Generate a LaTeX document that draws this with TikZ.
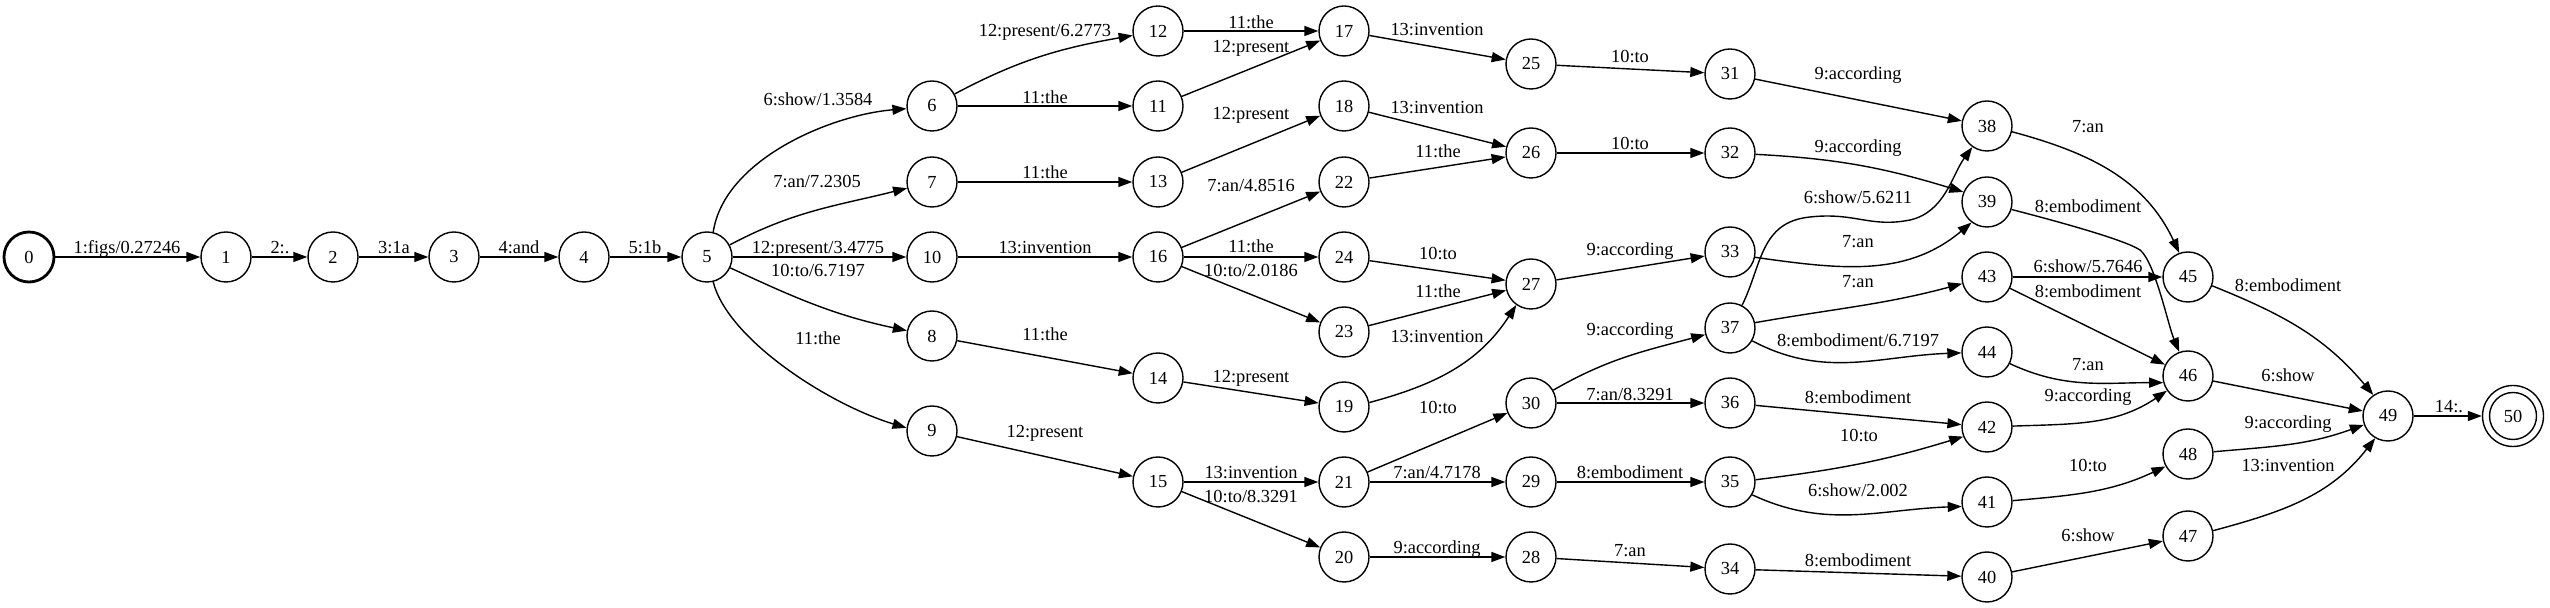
\documentclass[tikz,border=0pt]{standalone}
\usepackage{fontspec}
\setmainfont{Liberation Serif}
\usetikzlibrary{arrows.meta}
\begin{document}
\begin{tikzpicture}[x=0.5pt,y=0.5pt,
  st/.style={circle,draw,line width=0.7pt,minimum size=25pt,inner sep=0pt,font=\fontsize{9.2}{11}\selectfont},
  ed/.style={line width=0.7pt,-{Triangle[length=7pt,width=5pt]}},
  lb/.style={anchor=base,yshift=-3pt,inner sep=0pt,font=\fontsize{9.2}{11}\selectfont}]
\useasboundingbox (0,0) rectangle (2550,-608);
% nodes
\node[st,line width=1.4pt] (n0) at (29,-257) {0};
\node[st] (n1) at (226,-257) {1};
\node[st] (n2) at (333,-257) {2};
\node[st] (n3) at (454,-257) {3};
\node[st] (n4) at (584,-257) {4};
\node[st] (n5) at (707,-257) {5};
\node[st] (n6) at (932,-106) {6};
\node[st] (n7) at (932,-182) {7};
\node[st] (n10) at (932,-257) {10};
\node[st] (n8) at (932,-336) {8};
\node[st] (n9) at (932,-431) {9};
\node[st] (n12) at (1158,-31) {12};
\node[st] (n11) at (1158,-106) {11};
\node[st] (n13) at (1158,-182) {13};
\node[st] (n16) at (1158,-257) {16};
\node[st] (n14) at (1158,-378) {14};
\node[st] (n15) at (1158,-482) {15};
\node[st] (n17) at (1344,-31) {17};
\node[st] (n18) at (1344,-106) {18};
\node[st] (n22) at (1344,-182) {22};
\node[st] (n24) at (1344,-257) {24};
\node[st] (n23) at (1344,-332) {23};
\node[st] (n19) at (1344,-407) {19};
\node[st] (n21) at (1344,-482) {21};
\node[st] (n20) at (1344,-557) {20};
\node[st] (n25) at (1531,-64) {25};
\node[st] (n26) at (1531,-153) {26};
\node[st] (n27) at (1531,-284) {27};
\node[st] (n30) at (1531,-403) {30};
\node[st] (n29) at (1531,-482) {29};
\node[st] (n28) at (1531,-557) {28};
\node[st] (n31) at (1730,-74) {31};
\node[st] (n32) at (1730,-153) {32};
\node[st] (n33) at (1730,-252) {33};
\node[st] (n37) at (1730,-328) {37};
\node[st] (n36) at (1730,-403) {36};
\node[st] (n35) at (1730,-482) {35};
\node[st] (n34) at (1730,-569) {34};
\node[st] (n38) at (1987,-126) {38};
\node[st] (n39) at (1987,-202) {39};
\node[st] (n43) at (1987,-277) {43};
\node[st] (n44) at (1987,-352) {44};
\node[st] (n42) at (1987,-427) {42};
\node[st] (n41) at (1987,-502) {41};
\node[st] (n40) at (1987,-577) {40};
\node[st] (n45) at (2188,-277) {45};
\node[st] (n46) at (2188,-376) {46};
\node[st] (n48) at (2188,-454) {48};
\node[st] (n47) at (2188,-536) {47};
\node[st] (n49) at (2388,-416) {49};
\node[st,minimum size=30.5pt] (n50) at (2513,-416) {};
\node[st,minimum size=23.5pt] (n50i) at (2513,-416) {50};
% edges
\draw[ed] (n0) -- (n1);
\draw[ed] (n1) -- (n2);
\draw[ed] (n2) -- (n3);
\draw[ed] (n3) -- (n4);
\draw[ed] (n4) -- (n5);
\draw[ed] (n5.76) .. controls (724,-160) and (830,-115) .. (n6.186);
\draw[ed] (n5) to[out=28,in=194] (n7);
\draw[ed] (n5) -- (n10);
\draw[ed] (n5) to[out=-25,in=168] (n8);
\draw[ed] (n5.-76) .. controls (728,-340) and (830,-405) .. (n9.173);
\draw[ed] (n6) to[out=28,in=190] (n12);
\draw[ed] (n6) -- (n11);
\draw[ed] (n7) -- (n13);
\draw[ed] (n10) -- (n16);
\draw[ed] (n8) -- (n14);
\draw[ed] (n9) -- (n15);
\draw[ed] (n12) -- (n17);
\draw[ed] (n11) -- (n17);
\draw[ed] (n13) -- (n18);
\draw[ed] (n16) -- (n22);
\draw[ed] (n16) -- (n24);
\draw[ed] (n16) -- (n23);
\draw[ed] (n14) -- (n19);
\draw[ed] (n15) -- (n21);
\draw[ed] (n15) -- (n20);
\draw[ed] (n17) -- (n25);
\draw[ed] (n18) -- (n26);
\draw[ed] (n22) -- (n26);
\draw[ed] (n24) -- (n27);
\draw[ed] (n23) -- (n27);
\draw[ed] (n19.10) to[out=15,in=237] (n27.235);
\draw[ed] (n21) -- (n30);
\draw[ed] (n21) -- (n29);
\draw[ed] (n20) -- (n28);
\draw[ed] (n25) -- (n31);
\draw[ed] (n26) -- (n32);
\draw[ed] (n27) -- (n33);
\draw[ed] (n30.30) to[out=30,in=195] (n37.195);
\draw[ed] (n30) -- (n36);
\draw[ed] (n29) -- (n35);
\draw[ed] (n28) -- (n34);
\draw[ed] (n31) -- (n38);
\draw[ed] (n32.-3) to[out=-3,in=163] (n39.157);
\draw[ed] (n37.62) .. controls (1762,-265) and (1760,-222) .. (1810,-217) .. controls (1855,-212) and (1870,-228) .. (1910,-220) .. controls (1945,-212) and (1952,-175) .. (n38.235);
\draw[ed] (n33.-12) to[out=-8,in=220] (n39.233);
\draw[ed] (n37.12) to[out=10,in=195] (n43.195);
\draw[ed] (n37.-30) to[out=-28,in=182] (n44.182);
\draw[ed] (n36) -- (n42);
\draw[ed] (n35.5) to[out=7,in=197] (n42.202);
\draw[ed] (n35.-30) to[out=-25,in=182] (n41.190);
\draw[ed] (n34) -- (n40);
\draw[ed] (n38.-13) to[out=-15,in=115] (n45.110);
\draw[ed] (n39.-17) .. controls (2060,-222) and (2125,-240) .. (2140,-250) .. controls (2155,-262) and (2168,-325) .. (n46.110);
\draw[ed] (n43) -- (n45);
\draw[ed] (n43) -- (n46);
\draw[ed] (n44.-27) to[out=-25,in=180] (n46.195);
\draw[ed] (n42.2) to[out=2,in=214] (n46.215);
\draw[ed] (n41.3) to[out=5,in=205] (n48.209);
\draw[ed] (n40) -- (n47);
\draw[ed] (n45.-20) to[out=-22,in=130] (n49.125);
\draw[ed] (n46) -- (n49);
\draw[ed] (n48.5) to[out=5,in=200] (n49.200);
\draw[ed] (n47.12) to[out=15,in=232] (n49.240);
\draw[ed] (n49) -- (n50);
% labels
\node[lb] (l0) at (127,-248) {1:figs/0.27246};
\node[lb] (l1) at (280,-248) {2:.};
\node[lb] (l2) at (394,-248) {3:1a};
\node[lb] (l3) at (519,-248) {4:and};
\node[lb] (l4) at (645,-248) {5:1b};
\node[lb] (l5a) at (818,-100) {6:show/1.3584};
\node[lb] (l5b) at (817,-182) {7:an/7.2305};
\node[lb] (l5c) at (818,-248) {12:present/3.4775};
\node[lb] (l5d) at (818,-271) {10:to/6.7197};
\node[lb] (l5e) at (818,-339) {11:the};
\node[lb] (l6a) at (1045,-31) {12:present/6.2773};
\node[lb] (l6b) at (1045,-98) {11:the};
\node[lb] (l7) at (1045,-173) {11:the};
\node[lb] (l10) at (1045,-248) {13:invention};
\node[lb] (l8) at (1045,-335) {11:the};
\node[lb] (l9) at (1045,-432) {12:present};
\node[lb] (l12) at (1251,-23) {11:the};
\node[lb] (l11) at (1251,-47) {12:present};
\node[lb] (l13) at (1251,-114) {12:present};
\node[lb] (l16a) at (1251,-186) {7:an/4.8516};
\node[lb] (l16b) at (1251,-247) {11:the};
\node[lb] (l16c) at (1251,-271) {10:to/2.0186};
\node[lb] (l14) at (1251,-377) {12:present};
\node[lb] (l15a) at (1251,-473) {13:invention};
\node[lb] (l15b) at (1251,-497) {10:to/8.3291};
\node[lb] (l17) at (1437,-30) {13:invention};
\node[lb] (l18) at (1437,-108) {13:invention};
\node[lb] (l22) at (1438,-152) {11:the};
\node[lb] (l24) at (1438,-254) {10:to};
\node[lb] (l23) at (1438,-292) {11:the};
\node[lb] (l19) at (1437,-337) {13:invention};
\node[lb] (l21a) at (1438,-408) {10:to};
\node[lb] (l21b) at (1437,-473) {7:an/4.7178};
\node[lb] (l20) at (1437,-548) {9:according};
\node[lb] (l25) at (1630,-57) {10:to};
\node[lb] (l26) at (1630,-144) {10:to};
\node[lb] (l27) at (1630,-250) {9:according};
\node[lb] (l30a) at (1630,-330) {9:according};
\node[lb] (l30b) at (1630,-395) {7:an/8.3291};
\node[lb] (l29) at (1630,-473) {8:embodiment};
\node[lb] (l28) at (1630,-551) {7:an};
\node[lb] (l31) at (1858,-74) {9:according};
\node[lb] (l32) at (1858,-147) {9:according};
\node[lb] (l37a) at (1858,-198) {6:show/5.6211};
\node[lb] (l33) at (1858,-242) {7:an};
\node[lb] (l37b) at (1858,-282) {7:an};
\node[lb] (l37c) at (1858,-341) {8:embodiment/6.7197};
\node[lb] (l36) at (1858,-398) {8:embodiment};
\node[lb] (l35a) at (1859,-436) {10:to};
\node[lb] (l35b) at (1858,-491) {6:show/2.002};
\node[lb] (l34) at (1858,-561) {8:embodiment};
\node[lb] (l38) at (2088,-127) {7:an};
\node[lb] (l39) at (2088,-207) {8:embodiment};
\node[lb] (l43a) at (2088,-267) {6:show/5.7646};
\node[lb] (l43b) at (2088,-292) {8:embodiment};
\node[lb] (l44) at (2088,-365) {7:an};
\node[lb] (l42) at (2088,-396) {9:according};
\node[lb] (l41) at (2088,-466) {10:to};
\node[lb] (l40) at (2088,-536) {6:show};
\node[lb] (l45) at (2288,-286) {8:embodiment};
\node[lb] (l46) at (2288,-376) {6:show};
\node[lb] (l48) at (2288,-423) {9:according};
\node[lb] (l47) at (2288,-466) {13:invention};
\node[lb] (l49) at (2449,-407) {14:.};
\end{tikzpicture}
\end{document}
